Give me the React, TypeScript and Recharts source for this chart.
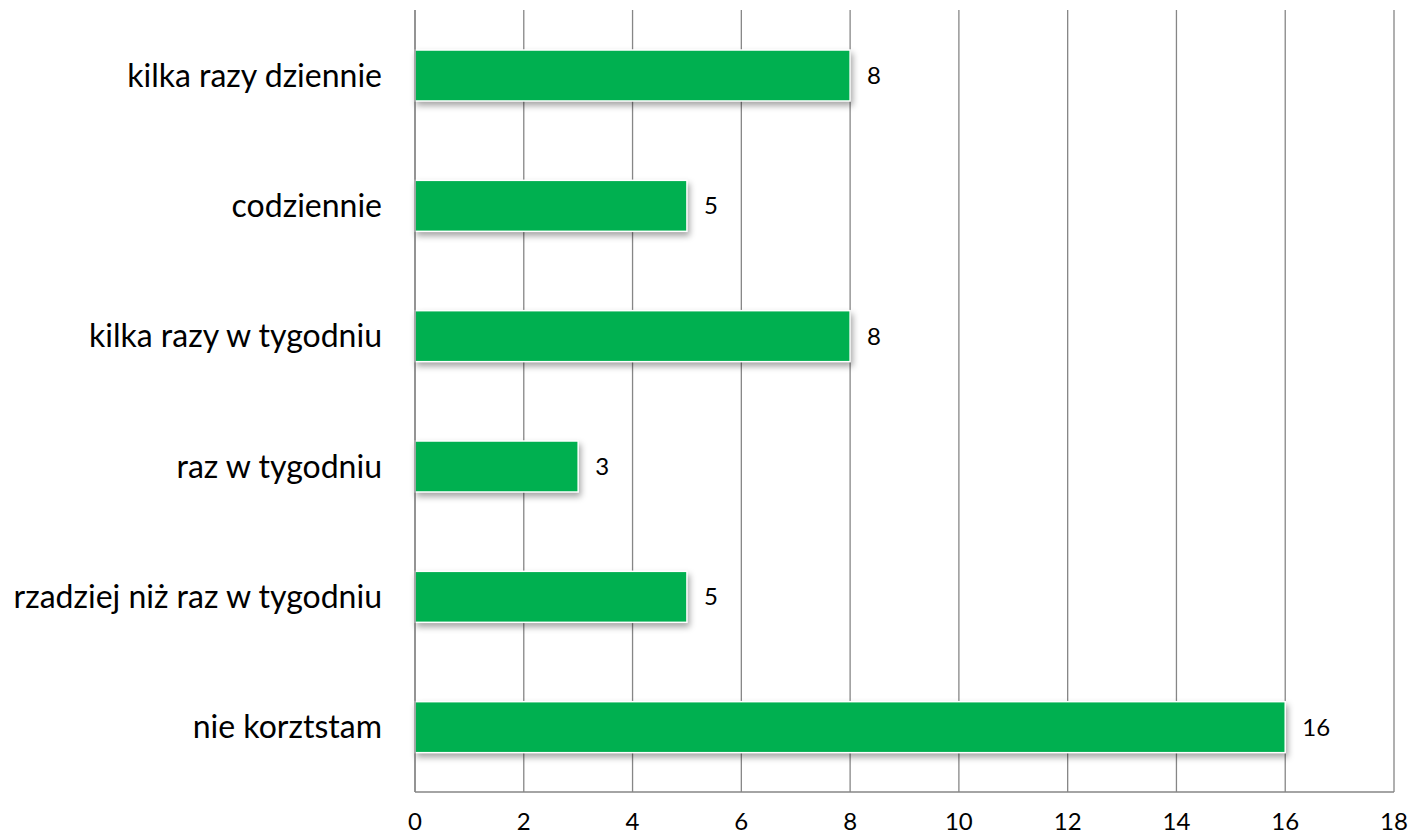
import React from "react";
import { BarChart, Bar, XAxis, YAxis, CartesianGrid, LabelList } from "recharts";

const categories = [
  "kilka razy dziennie",
  "codziennie",
  "kilka razy w tygodniu",
  "raz w tygodniu",
  "rzadziej niż raz w tygodniu",
  "nie korztstam",
];
const values = [8, 5, 8, 3, 5, 16];
const xTicks = [0, 2, 4, 6, 8, 10, 12, 14, 16, 18];

const data = categories.map((name, i) => ({ name, value: values[i] }));

const FONT = "Lato, 'Open Sans', sans-serif";
const GRID = "#868686";

const ShadowBar = (props: any) => {
  const { x, y, width, height } = props;
  return (
    <rect
      x={x}
      y={y}
      width={width}
      height={height}
      fill="#00B050"
      stroke="#ffffff"
      strokeWidth={1.5}
      style={{ filter: "drop-shadow(2px 4px 3px rgba(0,0,0,0.35))" }}
    />
  );
};

export default function App() {
  return (
    <div style={{ position: "absolute", left: 0, top: 0, background: "#fff" }}>
      <BarChart
        width={1411}
        height={838}
        data={data}
        layout="vertical"
        margin={{ top: 10, right: 17, bottom: 0, left: 0 }}
        barCategoryGap={0}
      >
        <CartesianGrid horizontal={false} stroke={GRID} strokeWidth={1.3} />
        <XAxis
          type="number"
          domain={[0, 18]}
          ticks={xTicks}
          interval={0}
          height={46}
          tickLine={false}
          tickSize={0}
          tickMargin={21}
          axisLine={{ stroke: GRID, strokeWidth: 1.3 }}
          tick={{ fill: "#000", fontSize: 24, fontFamily: FONT }}
        />
        <YAxis
          type="category"
          dataKey="name"
          width={415}
          tickLine={false}
          tickSize={0}
          tickMargin={33}
          axisLine={{ stroke: GRID, strokeWidth: 1.3 }}
          tick={{ fill: "#000", fontSize: 32, fontFamily: FONT }}
        />
        <Bar dataKey="value" barSize={51} isAnimationActive={false} shape={<ShadowBar />}>
          <LabelList
            dataKey="value"
            position="right"
            offset={17}
            style={{ fill: "#000", fontSize: 24, fontFamily: FONT }}
          />
        </Bar>
      </BarChart>
    </div>
  );
}
